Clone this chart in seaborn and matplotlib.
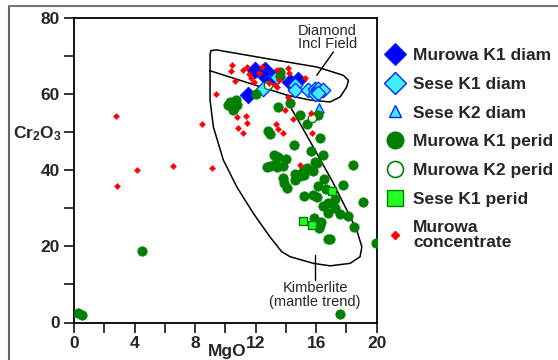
import numpy as np
import pandas as pd
import matplotlib
matplotlib.use("Agg")
import matplotlib.pyplot as plt
from matplotlib.lines import Line2D
import seaborn as sns

# ---------------- data ----------------
murowa_k1_diam_x = [11.96, 12.62, 12.84, 12.70, 13.07, 13.28, 14.28, 14.83, 11.52]
murowa_k1_diam_y = [66.3, 66.3, 65.0, 64.6, 64.2, 64.6, 63.3, 63.9, 59.8]

sese_k1_diam_x = [12.51, 13.40, 14.60, 14.60, 15.49, 15.93, 16.15, 16.48, 15.93, 16.15]
sese_k1_diam_y = [61.5, 64.6, 62.4, 61.1, 61.1, 61.5, 61.3, 61.1, 60.2, 60.4]

sese_k2_diam_x = [16.2]
sese_k2_diam_y = [56.3]

murowa_k1_perid_x = [13.60, 13.60, 12.03, 10.31, 10.69, 10.75, 10.53, 10.20, 10.60,
                     14.28, 13.50, 14.94, 15.38, 16.15, 12.80, 12.94, 14.54, 16.26,
                     15.66, 16.44, 13.22, 13.50, 14.01, 12.73, 12.95, 13.28, 13.40,
                     13.79, 15.93, 16.05, 15.38, 15.15, 15.82, 18.46, 14.60, 14.94,
                     15.20, 13.79, 13.90, 14.10, 14.60, 16.52, 16.15, 17.75, 16.66,
                     15.22, 15.77, 16.04, 17.25, 19.12, 16.81, 16.48, 17.25, 16.77,
                     17.58, 18.08, 15.86, 16.15, 16.25, 16.35, 16.20, 18.52, 16.81,
                     16.92, 19.96, 4.47, 0.29, 0.51, 17.58]
murowa_k1_perid_y = [66.0, 64.8, 60.2, 57.9, 58.5, 57.1, 55.8, 57.1, 56.5,
                     57.8, 56.7, 54.5, 52.2, 54.5, 50.3, 49.7, 46.6, 48.4,
                     45.1, 44.0, 44.0, 43.6, 42.9, 40.9, 41.1, 41.8, 40.9,
                     41.2, 42.3, 42.0, 40.5, 39.9, 39.9, 41.4, 39.0, 38.5,
                     38.8, 37.9, 36.7, 35.5, 37.4, 37.8, 35.9, 36.1, 35.0,
                     33.2, 33.5, 33.1, 32.4, 31.6, 31.5, 30.7, 30.2, 28.9,
                     28.5, 28.1, 27.6, 26.1, 25.7, 26.5, 24.8, 25.2, 21.9,
                     21.9, 21.0, 18.8, 2.6, 2.0, 2.2]

murowa_k2_perid_x = [12.84, 15.71]
murowa_k2_perid_y = [62.4, 53.8]

sese_k1_perid_x = [17.07, 15.15, 15.75]
sese_k1_perid_y = [34.6, 26.7, 25.6]

murowa_conc_x = [2.78, 4.14, 6.56, 9.10, 8.44, 9.39, 10.42, 10.35, 10.64, 11.15,
                 11.41, 11.59, 11.68, 12.40, 12.20, 13.40, 14.16, 14.23, 15.27, 13.28,
                 13.57, 13.40, 14.12, 13.95, 14.50, 10.75, 11.37, 11.43, 10.82, 11.19,
                 13.35, 13.50, 13.83, 15.64, 15.71, 14.94, 2.86, 12.90, 11.90]
murowa_conc_y = [54.2, 40.1, 41.1, 40.7, 52.2, 60.0, 67.7, 66.2, 63.5, 66.5,
                 67.2, 65.3, 64.4, 67.2, 65.6, 66.5, 66.8, 65.5, 64.3, 62.4,
                 63.7, 62.0, 59.3, 56.0, 53.5, 54.1, 54.2, 52.4, 51.1, 49.9,
                 52.3, 51.0, 49.9, 55.0, 49.9, 41.4, 35.9, 62.9, 63.2]

# field outlines (MgO, Cr2O3)
diamond_field_x = [8.99, 14.06, 15.60, 16.92, 17.58, 18.02, 18.13, 17.80, 16.04, 12.74, 9.39, 9.05, 8.99, 8.99]
diamond_field_y = [66.2, 59.8, 58.5, 58.0, 59.3, 61.95, 63.7, 65.0, 67.2, 69.4, 71.7, 71.5, 70.5, 66.2]

kimberlite_x = [8.99, 8.99, 9.21, 9.87, 10.75, 11.85, 12.95, 13.73, 14.28, 15.82, 16.92,
                18.24, 18.90, 19.02, 18.68, 18.02, 17.14, 16.04, 14.94, 14.16, 14.06]
kimberlite_y = [66.2, 58.5, 51.4, 42.7, 35.7, 28.7, 22.5, 18.6, 17.3, 15.55, 14.9,
                15.55, 17.3, 19.9, 24.3, 29.6, 36.6, 44.5, 52.3, 57.6, 59.8]

x_ticks = [0, 2, 4, 6, 8, 10, 12, 14, 16, 18, 20]
x_ticklabels = ["0", "", "4", "", "8", "", "12", "", "16", "", "20"]
y_ticks = [0, 10, 20, 30, 40, 50, 60, 70, 80]
y_ticklabels = ["0", "", "20", "", "40", "", "60", "", "80"]

legend_labels = ["Murowa K1 diam", "Sese K1 diam", "Sese K2 diam", "Murowa K1 perid",
                 "Murowa K2 perid", "Sese K1 perid", "Murowa\nconcentrate"]

# ---------------- style ----------------
sns.set_style("ticks")
plt.rcParams["font.family"] = ["Liberation Sans", "DejaVu Sans"]
plt.rcParams["mathtext.fontset"] = "custom"
plt.rcParams["mathtext.rm"] = "Liberation Sans"
plt.rcParams["mathtext.bf"] = "Liberation Sans:bold"

BLUE = "#0000ff"
EDGE_BLUE = "#0022ff"
CYAN = "#3ef0ff"
GREEN = "#008000"
LGREEN = "#22ff22"
RED = "#ff0000"

fig = plt.figure(figsize=(5.58, 3.6), dpi=100)
ax = fig.add_axes([74 / 558, 1 - 322.5 / 360, (376.7 - 74) / 558, (322.5 - 18.3) / 360])

def df(x, y):
    return pd.DataFrame({"MgO": x, "Cr2O3": y})

sns.scatterplot(data=df(murowa_k1_diam_x, murowa_k1_diam_y), x="MgO", y="Cr2O3", ax=ax,
                marker="D", s=70, color=BLUE, edgecolor=EDGE_BLUE, linewidth=0.8, zorder=3)
sns.scatterplot(data=df(sese_k1_diam_x, sese_k1_diam_y), x="MgO", y="Cr2O3", ax=ax,
                marker="D", s=55, color=CYAN, edgecolor=EDGE_BLUE, linewidth=0.9, zorder=3)
sns.scatterplot(data=df(sese_k2_diam_x, sese_k2_diam_y), x="MgO", y="Cr2O3", ax=ax,
                marker="^", s=45, color=CYAN, edgecolor=EDGE_BLUE, linewidth=0.9, zorder=3)
sns.scatterplot(data=df(murowa_k1_perid_x, murowa_k1_perid_y), x="MgO", y="Cr2O3", ax=ax,
                marker="o", s=46, color=GREEN, edgecolor=GREEN, linewidth=0.5, zorder=4)
sns.scatterplot(data=df(murowa_k2_perid_x, murowa_k2_perid_y), x="MgO", y="Cr2O3", ax=ax,
                marker="o", s=36, color="white", edgecolor=GREEN, linewidth=1.0, zorder=4)
sns.scatterplot(data=df(sese_k1_perid_x, sese_k1_perid_y), x="MgO", y="Cr2O3", ax=ax,
                marker="s", s=40, color=LGREEN, edgecolor=GREEN, linewidth=1.0, zorder=4)
sns.scatterplot(data=df(murowa_conc_x, murowa_conc_y), x="MgO", y="Cr2O3", ax=ax,
                marker="D", s=10, color=RED, edgecolor=RED, linewidth=0.3, zorder=5)

ax.plot(diamond_field_x, diamond_field_y, color="black", lw=1.1, zorder=2)
ax.plot(kimberlite_x, kimberlite_y, color="black", lw=1.1, zorder=2)

ax.set_xlim(0, 20)
ax.set_ylim(0, 80)
ax.set_xticks(x_ticks)
ax.set_xticklabels(x_ticklabels, fontsize=12.5, fontweight="bold")
ax.set_yticks(y_ticks)
ax.set_yticklabels(y_ticklabels, fontsize=12.5, fontweight="bold")
ax.tick_params(direction="out", length=7, width=1.1, pad=3, color="black")
for sp in ax.spines.values():
    sp.set_visible(True)
    sp.set_linewidth(1.3)
    sp.set_color("black")

ax.set_xlabel("MgO", fontsize=12.5, fontweight="bold")
ax.xaxis.set_label_coords(0.505, -0.072)
ax.xaxis.label.set_va("top")
ax.set_ylabel(r"$\mathbf{Cr_2O_3}$", fontsize=12.5, rotation=0)
ax.yaxis.set_label_coords(-0.12, 0.62)
ax.yaxis.label.set_va("center")
ax.yaxis.label.set_ha("center")

# annotations
ax.text(16.75, 75.0, "Diamond\nIncl Field", ha="center", va="center", fontsize=10.5,
        linespacing=0.95)
ax.plot([17.14, 16.04], [71.15, 65.0], color="black", lw=1.0)
ax.text(15.93, 10.8, "Kimberlite\n(mantle trend)", ha="center", va="top", fontsize=10.5,
        linespacing=0.95)
ax.plot([15.93, 15.93], [17.7, 11.3], color="black", lw=1.0)

# legend
handles = [
    Line2D([], [], ls="none", marker="D", ms=11, mfc=BLUE, mec=EDGE_BLUE, mew=0.8),
    Line2D([], [], ls="none", marker="D", ms=11, mfc=CYAN, mec=EDGE_BLUE, mew=1.0),
    Line2D([], [], ls="none", marker="^", ms=8.5, mfc=CYAN, mec=EDGE_BLUE, mew=1.0),
    Line2D([], [], ls="none", marker="o", ms=12, mfc=GREEN, mec=GREEN),
    Line2D([], [], ls="none", marker="o", ms=11.5, mfc="white", mec=GREEN, mew=1.2),
    Line2D([], [], ls="none", marker="s", ms=11.5, mfc=LGREEN, mec=GREEN, mew=1.0),
    Line2D([], [], ls="none", marker="D", ms=3.8, mfc=RED, mec=RED),
]
leg = fig.legend(handles, legend_labels, loc="upper left",
                 bbox_to_anchor=(381 / 558, 1 - 48 / 360), frameon=False,
                 prop={"family": "Liberation Sans", "weight": "bold", "size": 12.5},
                 borderpad=0, borderaxespad=0, handlelength=1.6, handletextpad=0.25,
                 labelspacing=0.78)
for t in leg.get_texts():
    t.set_linespacing(0.95)

# outer frame
fig.add_artist(Line2D([9 / 558, 9 / 558], [0, 1 - 6 / 360], transform=fig.transFigure,
                      color="#666666", lw=1.5))
fig.add_artist(Line2D([9 / 558, 1], [1 - 6 / 360, 1 - 6 / 360], transform=fig.transFigure,
                      color="#777777", lw=1.5))

fig.savefig("out.png", dpi=100)
